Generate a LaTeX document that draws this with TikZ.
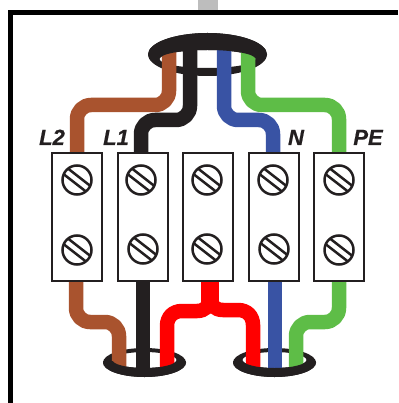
\documentclass[tikz,border=0pt]{standalone}
\usepackage{fontspec}
\setmainfont{Liberation Sans}
\newfontfamily\lblfont{Liberation Sans}[BoldItalicFeatures={FakeBold=0.5}]
\definecolor{wbrown}{HTML}{A9532E}
\definecolor{wblack}{HTML}{231F20}
\definecolor{wblue}{HTML}{3953A4}
\definecolor{wgreen}{HTML}{5EBD47}
\definecolor{wred}{HTML}{FF0000}
\definecolor{stub}{HTML}{BDBDBD}
\tikzset{
  wire/.style={line width=14.5pt,line join=round,rounded corners=14pt},
  terminal/.style={draw=wblack,fill=white,line width=2.8pt,minimum width=50pt,minimum height=128pt,inner sep=0pt,outer sep=0pt},
  screw/.style={circle,draw=wblack,fill=white,line width=2.5pt,minimum size=29pt,inner sep=0pt,
    path picture={\draw[wblack,line width=2.5pt]
      ([shift={(-14.2pt,15.5pt)}]path picture bounding box.center) -- ++(32.8pt,-25.5pt)
      ([shift={(-18.6pt,9.9pt)}]path picture bounding box.center) -- ++(32.8pt,-25.5pt);}},
  lbl/.style={font=\lblfont\bfseries\itshape\fontsize{22}{22}\selectfont,text=wblack,anchor=base,inner sep=0pt},
  ringfill/.style={fill=wblack,even odd rule},
}
\newcommand{\topring}{\path[ringfill] (207.5,54.5) ellipse [x radius=59.5,y radius=21.5] (207.5,59) ellipse [x radius=48,y radius=9];}
\newcommand{\lowring}[1]{\path[ringfill] (#1,362.5) ellipse [x radius=41.5,y radius=14.5] (#1,360) ellipse [x radius=32,y radius=8];}
\begin{document}
\begin{tikzpicture}[x=1pt,y=-1pt]
\useasboundingbox (0,0) rectangle (398,403);
% enclosure
\fill[stub] (198,0) rectangle (218,10);
\draw[black,line width=5pt,line join=miter] (10.5,403) -- (10.5,12.5) -- (398,12.5);
% terminals (nodes named first, drawn over the wires later)
\path
  node[terminal,draw=none,fill=none] (t1) at (77,217) {}
  node[terminal,draw=none,fill=none] (t2) at (143,217) {}
  node[terminal,draw=none,fill=none] (t3) at (208,217) {}
  node[terminal,draw=none,fill=none] (t4) at (274,217) {}
  node[terminal,draw=none,fill=none] (t5) at (339,217) {};
% back of the rings
\topring
\lowring{144.5}
\lowring{274.5}
% upper wires
\draw[wire,wbrown] (169,48) -- (169,105) -- (t1.north |- 0,105) -- (t1.center);
\draw[wire,wblack] (190,48) -- (190,120) -- (141,120) -- (141,217);
\draw[wire,wblue]  (224,48) -- (224,120) -- (273,120) -- (273,217);
\draw[wire,wgreen] (248,48) -- (248,105) -- (t5.north |- 0,105) -- (t5.center);
% lower wires
\draw[wire,wbrown] (76,217) -- (76,322) -- (119,322) -- (119,368);
\draw[wire,wblack] (143,217) -- (143,368);
\draw[wire,wblue]  (275,217) -- (275,368);
\draw[wire,wgreen] (t5.center) -- (339,322) -- (296,322) -- (296,368);
\fill[wred] (201,217) rectangle (219,312);
\draw[line width=14.5pt,wred] (167,368) -- (167,326) .. controls (167,317) and (173,311) .. (182,311) -- (197,311) .. controls (205,311) and (210,306) .. (210,298);
\draw[line width=14.5pt,wred] (253,368) -- (253,325) .. controls (253,316) and (247,310) .. (238,310) -- (223,310) .. controls (215,310) and (210,305) .. (210,298);
% front of the rings
\begin{scope}\clip (140,20) rectangle (280,58); \topring \end{scope}
\begin{scope}\clip (95,361) rectangle (325,385); \lowring{144.5} \lowring{274.5} \end{scope}
% terminals
\node[terminal] at (t1) {};
\node[terminal] at (t2) {};
\node[terminal] at (t3) {};
\node[terminal] at (t4) {};
\node[terminal] at (t5) {};
% screws
\node[screw] (s1a) at (77,180) {};
\node[screw] (s1b) at (77,250) {};
\node[screw] (s2a) at (141,180) {};
\node[screw] (s2b) at (143,249) {};
\node[screw] (s3a) at (207,180) {};
\node[screw] (s3b) at (207,249) {};
\node[screw] (s4a) at (273,180) {};
\node[screw] (s4b) at (274,249) {};
\node[screw] (s5a) at (339,180) {};
\node[screw] (s5b) at (339,250) {};
% labels
\node[lbl] (l2) at (52,145) {L2};
\node[lbl] (l1) at (116,145) {L1};
\node[lbl] (ln) at (296,145) {N};
\node[lbl] (lpe) at (368,145) {PE};
\end{tikzpicture}
\end{document}
